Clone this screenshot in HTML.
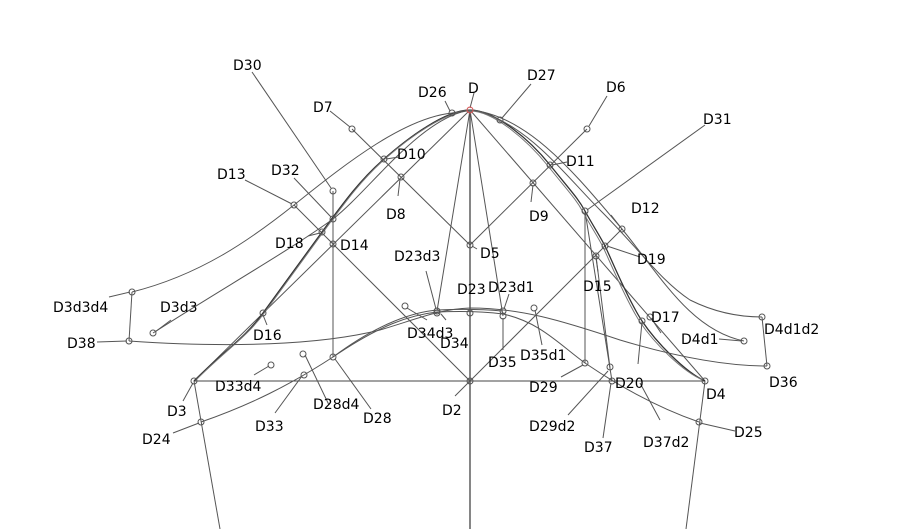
<!DOCTYPE html>
<html><head><meta charset="utf-8"><style>
html,body{margin:0;padding:0;background:#fff}
svg{display:block}
text{font-family:"DejaVu Sans","Liberation Sans",sans-serif;font-size:14px;fill:#000}
</style></head><body>
<svg width="915" height="529" viewBox="0 0 915 529" xmlns="http://www.w3.org/2000/svg">
<g stroke="#555" stroke-width="1" fill="none">
<line x1="194" y1="381" x2="705" y2="381" stroke="#444"/>
<line x1="470" y1="110" x2="470" y2="529" stroke="#444" stroke-width="1.3"/>
<line x1="194" y1="381" x2="220" y2="529"/>
<line x1="705" y1="381" x2="686" y2="529"/>
<line x1="333" y1="191" x2="333" y2="357"/>
<line x1="585" y1="211" x2="585" y2="363"/>
<line x1="194" y1="381" x2="470" y2="110"/>
<line x1="470" y1="110" x2="705" y2="381"/>
<line x1="352" y1="129" x2="470" y2="245"/>
<line x1="470" y1="245" x2="587" y2="129"/>
<line x1="294" y1="205" x2="470" y2="381"/>
<line x1="455" y1="396" x2="622" y2="229"/>
<line x1="470" y1="110" x2="437" y2="311"/>
<line x1="470" y1="110" x2="503" y2="316"/>
<line x1="585" y1="211" x2="612" y2="381"/>
<line x1="596" y1="256" x2="610" y2="368"/>
<line x1="132" y1="292" x2="129" y2="341"/>
<line x1="762" y1="317" x2="767" y2="366"/>
<path d="M194,381 C225,350 245,338 263,313 S300,262 322,232 S360,180 384,159 S445,110 470,110 S530,140 550,165 S578,198 585,211 S600,236 605,246 S628,300 642,321 S685,372 705,381" stroke="#333" stroke-width="1.3"/>
<path d="M196,380 C227,349 247,337 265,312 S302,261 324,231 S362,179 386,158 S446,111 470,111 S528,141 548,166 S576,199 583,212 S598,237 603,247 S626,301 640,322 S683,372 703,380" stroke="#777"/>
<path d="M132,292 C200,275 250,240 294,205 C350,160 405,118 452,113 C462,111 466,110 470,110 C480,110 490,115 500,120 C540,140 570,180 600,210 C640,250 660,280 690,300 C720,315 745,317 762,317"/>
<path d="M153,333 C220,290 290,250 333,219 C370,190 420,118 470,110"/>
<path d="M470,110 C530,115 580,180 622,229 C660,275 690,330 744,341"/>
<path d="M129,341 C230,348 320,345 380,330 C420,318 440,309 470,308 C520,308 560,320 620,340 C680,358 730,366 767,366"/>
<path d="M201,422 C250,405 290,385 333,357 C380,325 410,315 437,312 C460,311 480,311 503,314 C540,322 560,345 585,363 C610,380 650,405 699,422"/>
<path d="M333,357 C380,322 415,312 437,310 C460,309 480,309 502,311"/>
<line x1="252" y1="72" x2="331" y2="188"/>
<line x1="330" y1="111" x2="350" y2="127"/>
<line x1="445" y1="101" x2="450" y2="111"/>
<line x1="474" y1="93" x2="470" y2="108"/>
<line x1="531" y1="84" x2="502" y2="118"/>
<line x1="607" y1="96" x2="589" y2="126"/>
<line x1="705" y1="125" x2="587" y2="210"/>
<line x1="245" y1="180" x2="292" y2="204"/>
<line x1="294" y1="178" x2="331" y2="217"/>
<line x1="308" y1="236" x2="320" y2="233"/>
<line x1="399" y1="157" x2="386" y2="159"/>
<line x1="398" y1="196" x2="400" y2="179"/>
<line x1="531" y1="202" x2="533" y2="185"/>
<line x1="567" y1="162" x2="552" y2="165"/>
<line x1="611" y1="215" x2="622" y2="229"/>
<line x1="640" y1="257" x2="607" y2="246"/>
<line x1="598" y1="272" x2="596" y2="258"/>
<line x1="477" y1="249" x2="472" y2="246"/>
<line x1="426" y1="271" x2="436" y2="309"/>
<line x1="509" y1="294" x2="504" y2="309"/>
<line x1="503" y1="318" x2="503" y2="350"/>
<line x1="535" y1="310" x2="542" y2="345"/>
<line x1="407" y1="308" x2="427" y2="320"/>
<line x1="441" y1="314" x2="446" y2="320"/>
<line x1="561" y1="377" x2="583" y2="365"/>
<line x1="568" y1="415" x2="608" y2="371"/>
<line x1="603" y1="438" x2="611" y2="383"/>
<line x1="638" y1="364" x2="642" y2="322"/>
<line x1="640" y1="383" x2="660" y2="420"/>
<line x1="661" y1="333" x2="651" y2="318"/>
<line x1="719" y1="339" x2="742" y2="341"/>
<line x1="700" y1="423" x2="735" y2="431"/>
<line x1="263" y1="315" x2="267" y2="325"/>
<line x1="171" y1="320" x2="155" y2="332"/>
<line x1="109" y1="297" x2="130" y2="292"/>
<line x1="97" y1="342" x2="127" y2="341"/>
<line x1="254" y1="375" x2="269" y2="366"/>
<line x1="305" y1="355" x2="329" y2="405"/>
<line x1="275" y1="413" x2="302" y2="376"/>
<line x1="335" y1="359" x2="371" y2="409"/>
<line x1="183" y1="401" x2="193" y2="383"/>
<line x1="173" y1="433" x2="199" y2="423"/>
</g>
<g stroke="#555" stroke-width="1" fill="none">
<circle cx="470" cy="110" r="3" stroke="#d55"/>
<circle cx="470" cy="381" r="3"/><circle cx="194" cy="381" r="3"/><circle cx="705" cy="381" r="3"/>
<circle cx="470" cy="245" r="3"/><circle cx="352" cy="129" r="3"/><circle cx="401" cy="177" r="3"/>
<circle cx="384" cy="159" r="3"/><circle cx="452" cy="113" r="3"/><circle cx="500" cy="120" r="3"/>
<circle cx="587" cy="129" r="3"/><circle cx="550" cy="165" r="3"/><circle cx="533" cy="183" r="3"/>
<circle cx="585" cy="211" r="3"/><circle cx="622" cy="229" r="3"/><circle cx="605" cy="246" r="3"/>
<circle cx="596" cy="256" r="3"/><circle cx="642" cy="321" r="3"/><circle cx="650" cy="317" r="3"/>
<circle cx="612" cy="381" r="3"/><circle cx="610" cy="367" r="3"/><circle cx="585" cy="363" r="3"/>
<circle cx="503" cy="311" r="3"/><circle cx="503" cy="316" r="3"/><circle cx="534" cy="308" r="3"/>
<circle cx="470" cy="313" r="3"/><circle cx="437" cy="311" r="3"/><circle cx="437" cy="313" r="3"/>
<circle cx="405" cy="306" r="3"/><circle cx="333" cy="244" r="3"/><circle cx="322" cy="232" r="3"/>
<circle cx="333" cy="219" r="3"/><circle cx="333" cy="191" r="3"/><circle cx="294" cy="205" r="3"/>
<circle cx="263" cy="313" r="3"/><circle cx="333" cy="357" r="3"/><circle cx="303" cy="354" r="3"/>
<circle cx="304" cy="375" r="3"/><circle cx="271" cy="365" r="3"/><circle cx="153" cy="333" r="3"/>
<circle cx="132" cy="292" r="3"/><circle cx="129" cy="341" r="3"/><circle cx="201" cy="422" r="3"/>
<circle cx="699" cy="422" r="3"/><circle cx="744" cy="341" r="3"/><circle cx="762" cy="317" r="3"/>
<circle cx="767" cy="366" r="3"/>
</g>
<g>
<text x="233" y="70">D30</text>
<text x="313" y="112">D7</text>
<text x="418" y="97">D26</text>
<text x="468" y="93">D</text>
<text x="527" y="80">D27</text>
<text x="606" y="92">D6</text>
<text x="703" y="124">D31</text>
<text x="217" y="179">D13</text>
<text x="271" y="175">D32</text>
<text x="397" y="159">D10</text>
<text x="566" y="166">D11</text>
<text x="386" y="219">D8</text>
<text x="529" y="221">D9</text>
<text x="631" y="213">D12</text>
<text x="275" y="248">D18</text>
<text x="340" y="250">D14</text>
<text x="480" y="258">D5</text>
<text x="637" y="264">D19</text>
<text x="394" y="261">D23d3</text>
<text x="488" y="292">D23d1</text>
<text x="457" y="294">D23</text>
<text x="583" y="291">D15</text>
<text x="53" y="312">D3d3d4</text>
<text x="160" y="312">D3d3</text>
<text x="407" y="338">D34d3</text>
<text x="651" y="322">D17</text>
<text x="764" y="334">D4d1d2</text>
<text x="681" y="344">D4d1</text>
<text x="253" y="340">D16</text>
<text x="67" y="348">D38</text>
<text x="440" y="348">D34</text>
<text x="520" y="360">D35d1</text>
<text x="488" y="367">D35</text>
<text x="215" y="391">D33d4</text>
<text x="529" y="392">D29</text>
<text x="615" y="388">D20</text>
<text x="769" y="387">D36</text>
<text x="706" y="399">D4</text>
<text x="167" y="416">D3</text>
<text x="442" y="415">D2</text>
<text x="313" y="409">D28d4</text>
<text x="363" y="423">D28</text>
<text x="529" y="431">D29d2</text>
<text x="255" y="431">D33</text>
<text x="734" y="437">D25</text>
<text x="142" y="444">D24</text>
<text x="584" y="452">D37</text>
<text x="643" y="447">D37d2</text>
</g>
</svg>
</body></html>
